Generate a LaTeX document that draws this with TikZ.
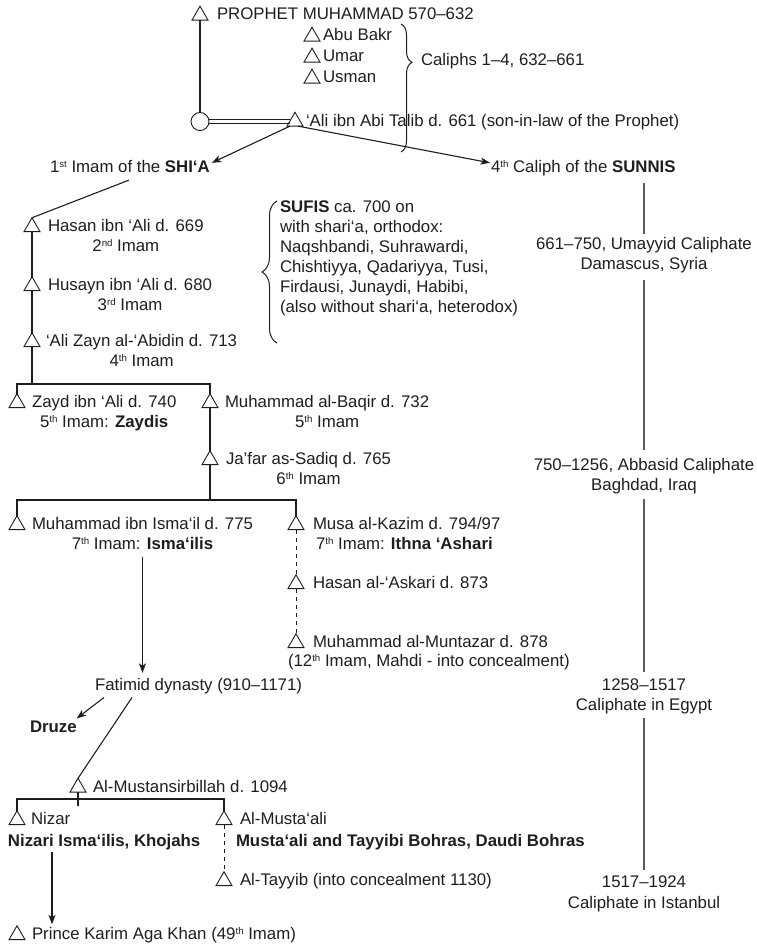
\documentclass[tikz,border=0pt]{standalone}
\usepackage{fontspec}
\setmainfont{Liberation Sans}
\usetikzlibrary{shapes.geometric,arrows.meta,decorations.pathreplacing,calc,backgrounds}
\definecolor{ink}{RGB}{30,30,30}
\definecolor{rline}{RGB}{90,90,90}
\newcommand{\dgfs}{\fontsize{16.8}{20}\selectfont}
\newcommand{\supx}[1]{\raisebox{5pt}{\fontsize{9.7}{9.7}\selectfont #1}}
\begin{document}
\begin{tikzpicture}[x=1pt,y=-1pt,
  txt/.style={inner sep=0pt,outer sep=0pt,font=\dgfs,text=ink,anchor=base west},
  ctr/.style={txt,anchor=base},
  tri/.style={regular polygon,regular polygon sides=3,draw=ink,minimum size=18.5pt,inner sep=0pt,outer sep=0pt,line width=0.9pt},
  ln/.style={draw=ink,line width=1.1pt},
  rl/.style={draw=rline,line width=1.3pt},
  arr/.style={ln,-{Stealth[length=9.5pt,width=7pt,inset=2.5pt]}},
  dsh/.style={ln,line width=0.9pt,dash pattern=on 4.5pt off 3.5pt},
  brc/.style={ln,line width=1pt,decorate}]
\useasboundingbox (0,0) rectangle (757,947);

% --- top
\node[tri] (P) at (200,15.5) {};
\node[txt] (Pt) at (217,20) {PROPHET MUHAMMAD 570–632};
\node[tri] (ab) at (312,36.5) {};
\node[txt] (abt) at (323,41) {Abu Bakr};
\node[tri] (um) at (312,57.5) {};
\node[txt] (umt) at (323,62) {Umar};
\node[tri] (us) at (312,78.5) {};
\node[txt] (ust) at (323,83) {Usman};
\draw[brc,decoration={brace,amplitude=11pt,aspect=0.3}] (401,24) -- (401,152);
\node[txt] (cal) at (421,66) {Caliphs 1–4, 632–661};
\node[circle,draw=ink,line width=0.9pt,minimum size=18pt,inner sep=0pt,outer sep=0pt] (circ) at (200,121.5) {};
\node[tri] (ali) at (295,121.5) {};
\node[txt] (alit) at (306,126) {‘Ali ibn Abi Talib d. 661 (son-in-law of the Prophet)};
\draw[ln] (P.south) -- (circ.north);
\begin{pgfonlayer}{background}
\draw[ln,double=white,double distance=3.5pt,line width=0.8pt] (circ) -- (ali);
\end{pgfonlayer}

\node[txt] (shia) at (50,172) {1\supx{st} Imam of the \textbf{SHI‘A}};
\node[txt] (sunni) at (491,172) {4\supx{th} Caliph of the \textbf{SUNNIS}};
\draw[arr] ($(ali.south)+(-5,0)$) -- ($(shia.north east)+(2,3)$);
\draw[arr] ($(ali.south)+(3,0)$) -- ($(sunni.north west)+(-1,3)$);

% --- Shi'a line
\node[tri] (hasan) at (32,227) {};
\node[txt] (hasant) at (48,231.5) {Hasan ibn ‘Ali d. 669};
\node[ctr] (hasan2) at ($(hasant.base)+(0,20)$) {2\supx{nd} Imam};
\node[tri] (husayn) at (32,286) {};
\node[txt] (husaynt) at (48,290.5) {Husayn ibn ‘Ali d. 680};
\node[ctr] (husayn2) at ($(husaynt.base)+(0,20)$) {3\supx{rd} Imam};
\node[tri] (zayn) at (32,342) {};
\node[txt] (zaynt) at (46,346.5) {‘Ali Zayn al-‘Abidin d. 713};
\node[ctr] (zayn2) at ($(zaynt.base)+(0,20)$) {4\supx{th} Imam};
\draw[ln] ($(shia.south)+(-1,8)$) -- (hasan.north);
\draw[ln] (hasan.south) -- (husayn.north);
\draw[ln] (husayn.south) -- (zayn.north);

\node[txt,anchor=north west,align=left] (sufi) at (280,201) {\textbf{SUFIS} ca. 700 on\\with shari‘a, orthodox:\\Naqshbandi, Suhrawardi,\\Chishtiyya, Qadariyya, Tusi,\\Firdausi, Junaydi, Habibi,\\(also without shari‘a, heterodox)};
\draw[brc,decoration={brace,amplitude=15pt}] (277,343) -- (277,201);

\coordinate (j1) at (32,384);
\coordinate (j1l) at (17,384);
\coordinate (j1r) at (210,384);
\node[tri] (zayd) at (17,403) {};
\node[txt] (zaydt) at (32,407.5) {Zayd ibn ‘Ali d. 740};
\node[ctr] (zayd2) at ($(zaydt.base)+(0,20)$) {5\supx{th} Imam: \textbf{Zaydis}};
\node[tri] (baqir) at (210,403) {};
\node[txt] (baqirt) at (225,407.5) {Muhammad al-Baqir d. 732};
\node[ctr] (baqir2) at ($(baqirt.base)+(0,20)$) {5\supx{th} Imam};
\draw[ln] (zayn.south) -- (j1);
\draw[ln] (zayd.north) -- (j1l) -- (j1r) -- (baqir.north);
\node[tri] (jafar) at (210,460) {};
\node[txt] (jafart) at (226,464.5) {Ja’far as-Sadiq d. 765};
\node[ctr] (jafar2) at ($(jafart.base)+(0,20)$) {6\supx{th} Imam};
\draw[ln] (baqir.south) -- (jafar.north);

\coordinate (j2) at (210,500);
\coordinate (j2l) at (17,500);
\coordinate (j2r) at (296,500);
\node[tri] (ismail) at (17,525) {};
\node[txt] (ismailt) at (32,529.5) {Muhammad ibn Isma‘il d. 775};
\node[ctr] (ismail2) at ($(ismailt.base)+(0,20)$) {7\supx{th} Imam: \textbf{Isma‘ilis}};
\node[tri] (musa) at (296,525) {};
\node[txt] (musat) at (313,529.5) {Musa al-Kazim d. 794/97};
\node[txt] (musa2) at (316,549) {7\supx{th} Imam: \textbf{Ithna ‘Ashari}};
\draw[ln] (jafar.south) -- (j2);
\draw[ln] (ismail.north) -- (j2l) -- (j2r) -- (musa.north);
\node[tri] (askari) at (296,584) {};
\node[txt] (askarit) at (313,588.5) {Hasan al-‘Askari d. 873};
\node[tri] (muntazar) at (296,643) {};
\node[txt] (muntazart) at (313,647.5) {Muhammad al-Muntazar d. 878};
\node[txt] (muntazar2) at (288,666.5) {(12\supx{th} Imam, Mahdi - into concealment)};
\draw[dsh] (musa.south) -- (askari.north);
\draw[dsh] (askari.south) -- (muntazar.north);

% --- Isma'ili line
\node[txt] (fatimid) at (95,690) {Fatimid dynasty (910–1171)};
\draw[arr] ($(ismail2.south)+(0,7)$) -- ($(ismail2.south |- fatimid.north)+(0,-5)$);
\node[txt] (druze) at (30,732) {\textbf{Druze}};
\draw[arr] ($(fatimid.south west)+(9,4)$) -- ($(druze.north east)+(0,-2)$);
\node[tri] (mustansir) at (78,787.5) {};
\node[txt] (mustansirt) at (93,792) {Al-Mustansirbillah d. 1094};
\draw[ln] ($(fatimid.south west)+(37,4)$) -- (mustansir.north);
\coordinate (mtick) at ($(mustansir.south)+(0,14)$);
\draw[ln] (mustansir.south) -- (mtick);
\coordinate (j3l) at (17,799);
\coordinate (j3r) at (224,799);
\node[tri] (nizar) at (17,820) {};
\node[txt] (nizart) at (31,824.5) {Nizar};
\node[txt] (nizari) at (8,846) {\textbf{Nizari Isma‘ilis, Khojahs}};
\node[tri] (mustaali) at (224,820) {};
\node[txt] (mustaalit) at (240,824.5) {Al-Musta‘ali};
\node[txt] (bohras) at (236,846) {\textbf{Musta‘ali and Tayyibi Bohras, Daudi Bohras}};
\draw[ln] (nizar.north) -- (j3l) -- (j3r) -- (mustaali.north);
\node[tri] (tayyib) at (224,881) {};
\node[txt] (tayyibt) at (240,885.5) {Al-Tayyib (into concealment 1130)};
\draw[dsh] (mustaali.south) -- (tayyib.north);
\node[tri] (prince) at (17,935) {};
\node[txt] (princet) at (32,939.5) {Prince Karim Aga Khan (49\supx{th} Imam)};
\coordinate (nk) at ($(nizari.south west)+(44,3)$);
\draw[arr] (nk) -- ($(nk |- princet.north)+(0,-3)$);

% --- Sunni column
\node[ctr] (um1) at (644,249) {661–750, Umayyid Caliphate};
\node[ctr] (um2) at (644,269) {Damascus, Syria};
\node[ctr] (ab1) at (644,470) {750–1256, Abbasid Caliphate};
\node[ctr] (ab2) at (644,490) {Baghdad, Iraq};
\node[ctr] (eg1) at (644,690) {1258–1517};
\node[ctr] (eg2) at (644,710) {Caliphate in Egypt};
\node[ctr] (is1) at (644,887) {1517–1924};
\node[ctr] (is2) at (644,908) {Caliphate in Istanbul};
\draw[rl] ($(um1.north |- sunni.south)+(0,8)$) -- ($(um1.north)+(0,-3)$);
\draw[rl] ($(um2.south)+(0,8)$) -- ($(ab1.north)+(0,-8)$);
\draw[rl] ($(ab2.south)+(0,6)$) -- ($(eg1.north)+(0,-6)$);
\draw[rl] ($(eg2.south)+(0,5)$) -- ($(is1.north)+(0,-5)$);
\end{tikzpicture}
\end{document}
